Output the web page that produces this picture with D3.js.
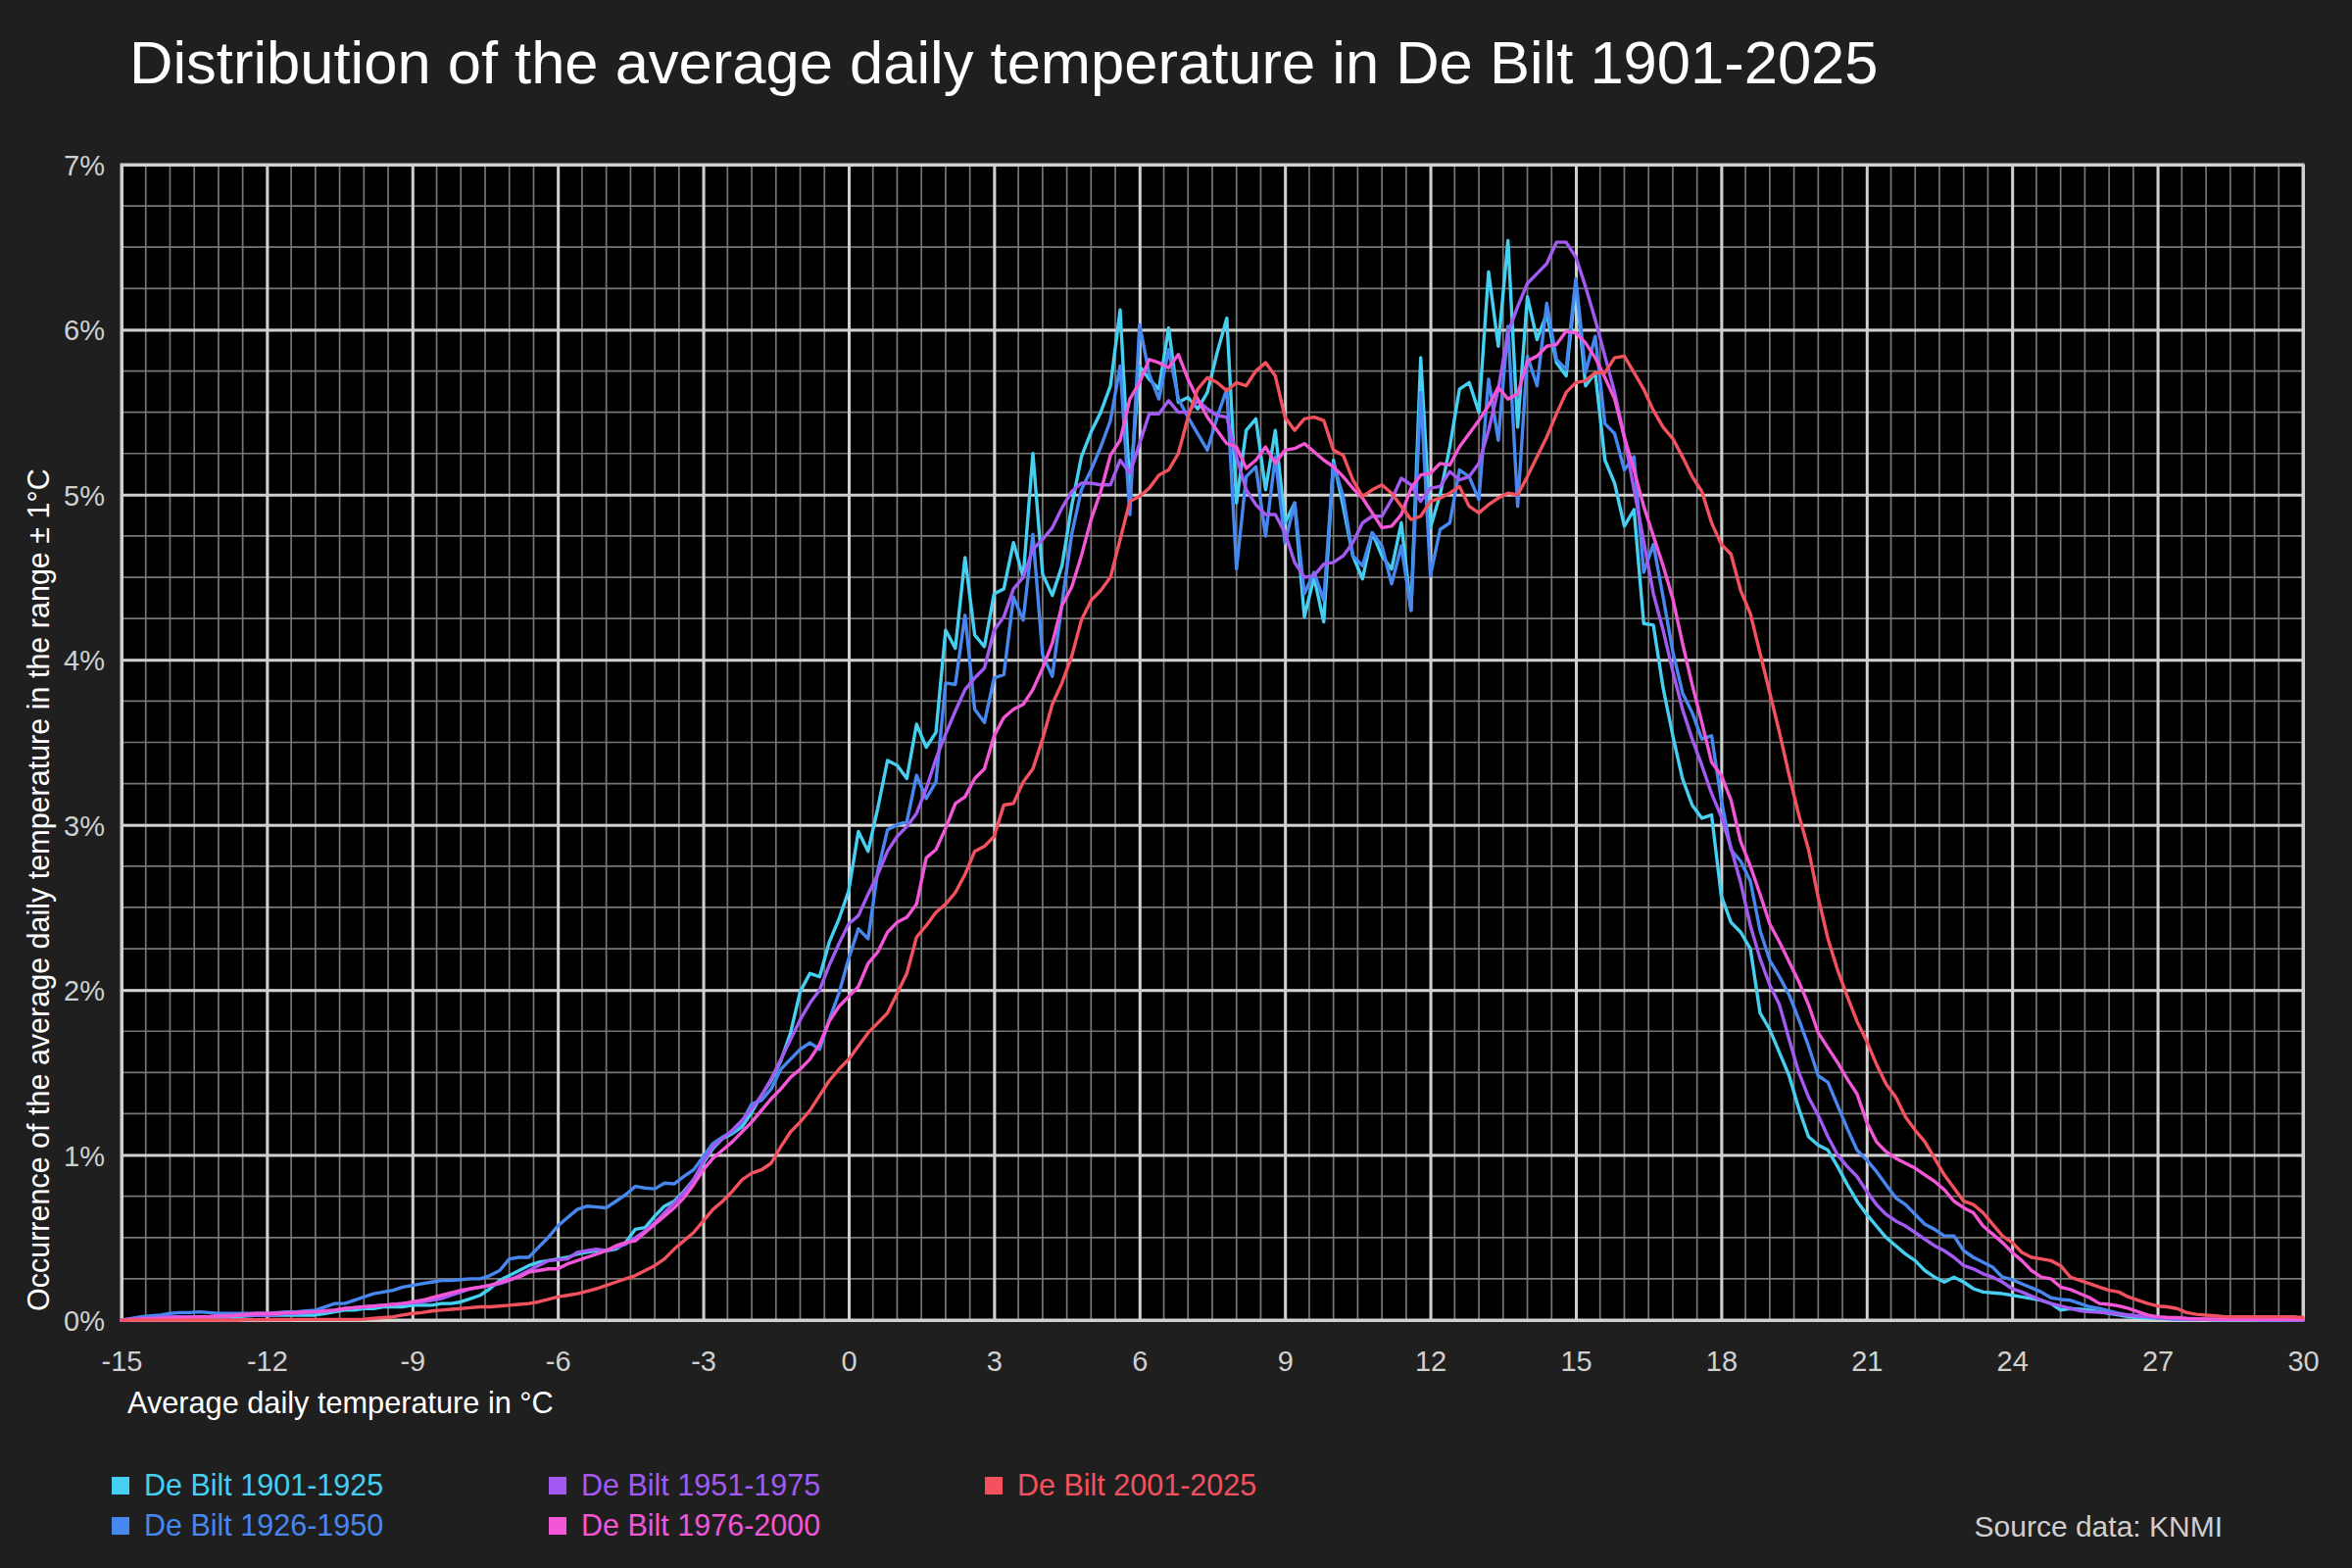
<!DOCTYPE html>
<html><head><meta charset="utf-8">
<script src="https://cdn.jsdelivr.net/npm/d3@7"></script>
<style>html,body{margin:0;padding:0;background:#1f1f1f;} svg{display:block;}</style>
</head><body>
<svg id="chart" width="2400" height="1600"></svg>
<script>
// Temperature grid: -15.0 .. 30.0 °C in 0.2 °C steps (226 points)
const tempStart = -15, tempStep = 0.2;

const seriesNames = ["De Bilt 1901-1925", "De Bilt 1926-1950", "De Bilt 1951-1975", "De Bilt 1976-2000", "De Bilt 2001-2025"];
const seriesColors = ["#45d0f2", "#4787f0", "#a35af2", "#f356d6", "#f4515f"];

const c1901 = [
0.00,0.005,0.01,0.01,0.015,0.02,0.02,0.02,0.02,0.02,
0.02,0.02,0.02,0.025,0.03,0.03,0.03,0.03,0.03,0.03,
0.03,0.04,0.05,0.06,0.06,0.07,0.07,0.08,0.08,0.08,
0.09,0.09,0.09,0.10,0.10,0.11,0.13,0.15,0.19,0.24,
0.27,0.30,0.33,0.35,0.36,0.37,0.38,0.40,0.41,0.42,
0.42,0.43,0.47,0.55,0.56,0.63,0.69,0.72,0.78,0.85,
0.95,1.04,1.10,1.13,1.17,1.26,1.36,1.45,1.57,1.74,
1.99,2.10,2.08,2.29,2.43,2.60,2.96,2.84,3.10,3.39,
3.36,3.28,3.61,3.47,3.56,4.18,4.07,4.62,4.15,4.08,
4.40,4.43,4.71,4.50,5.25,4.52,4.39,4.57,4.93,5.23,
5.38,5.50,5.66,6.12,5.03,5.78,5.70,5.64,6.01,5.56,
5.59,5.52,5.62,5.86,6.07,4.95,5.39,5.46,5.03,5.39,
4.83,4.95,4.26,4.50,4.23,5.21,4.93,4.63,4.49,4.77,
4.63,4.55,4.83,4.30,5.83,4.80,5.00,5.29,5.64,5.68,
5.50,6.35,5.90,6.54,5.41,6.20,5.94,6.10,5.80,5.72,
6.28,5.66,5.74,5.21,5.07,4.81,4.91,4.22,4.21,3.83,
3.54,3.28,3.12,3.04,3.06,2.57,2.41,2.35,2.25,1.86,
1.76,1.62,1.48,1.28,1.11,1.06,1.03,0.93,0.82,0.72,
0.64,0.57,0.50,0.45,0.40,0.36,0.30,0.26,0.23,0.26,
0.23,0.19,0.17,0.165,0.16,0.15,0.14,0.13,0.12,0.10,
0.06,0.07,0.065,0.06,0.05,0.04,0.03,0.02,0.016,0.013,
0.01,0.008,0.006,0.005,0.004,0.004,0.003,0.003,0.002,0.002,
0.002,0.001,0.001,0.001,0.0,0.0];

const c1926 = [
0.00,0.01,0.02,0.025,0.03,0.04,0.045,0.045,0.05,0.045,
0.04,0.04,0.04,0.04,0.04,0.04,0.045,0.05,0.05,0.055,
0.06,0.08,0.10,0.10,0.12,0.14,0.16,0.17,0.18,0.20,
0.21,0.22,0.23,0.24,0.24,0.245,0.25,0.25,0.27,0.30,
0.37,0.38,0.38,0.44,0.50,0.57,0.62,0.67,0.69,0.685,
0.68,0.72,0.76,0.81,0.80,0.795,0.83,0.825,0.87,0.91,
0.99,1.07,1.11,1.14,1.20,1.31,1.33,1.40,1.52,1.58,
1.64,1.68,1.64,1.82,1.98,2.19,2.37,2.31,2.72,2.97,
3.00,3.02,3.30,3.16,3.26,3.86,3.85,4.27,3.70,3.62,
3.89,3.91,4.38,4.24,4.76,4.03,3.90,4.34,4.76,5.03,
5.15,5.29,5.45,5.78,4.88,6.03,5.73,5.58,5.88,5.58,
5.47,5.37,5.27,5.47,5.64,4.55,5.11,5.17,4.75,5.23,
4.71,4.95,4.40,4.53,4.36,5.19,4.99,4.63,4.57,4.77,
4.69,4.46,4.69,4.30,5.62,4.51,4.79,4.83,5.15,5.11,
4.97,5.70,5.33,6.02,4.93,5.84,5.66,6.16,5.82,5.76,
6.31,5.74,5.96,5.43,5.37,5.15,5.23,4.53,4.70,4.38,
4.05,3.80,3.68,3.52,3.54,3.15,2.85,2.78,2.66,2.36,
2.18,2.08,1.97,1.82,1.66,1.48,1.44,1.30,1.16,1.03,
0.97,0.90,0.82,0.74,0.70,0.64,0.58,0.55,0.51,0.51,
0.42,0.38,0.35,0.32,0.26,0.245,0.22,0.195,0.17,0.135,
0.125,0.12,0.10,0.08,0.07,0.055,0.04,0.03,0.025,0.02,
0.012,0.008,0.006,0.005,0.004,0.004,0.003,0.003,0.002,0.002,
0.002,0.001,0.001,0.001,0.0,0.0];

const c1951 = [
0.00,0.005,0.01,0.01,0.015,0.02,0.02,0.02,0.02,0.02,
0.025,0.025,0.03,0.03,0.03,0.03,0.035,0.04,0.04,0.045,
0.05,0.055,0.06,0.07,0.075,0.08,0.085,0.09,0.095,0.10,
0.105,0.11,0.12,0.13,0.15,0.17,0.19,0.20,0.21,0.22,
0.24,0.27,0.30,0.33,0.36,0.365,0.37,0.41,0.42,0.43,
0.42,0.44,0.46,0.50,0.54,0.59,0.65,0.71,0.77,0.85,
0.96,1.05,1.10,1.15,1.21,1.28,1.36,1.46,1.58,1.70,
1.82,1.92,2.00,2.15,2.28,2.40,2.45,2.58,2.70,2.84,
2.93,2.99,3.07,3.22,3.40,3.55,3.69,3.82,3.89,3.95,
4.18,4.26,4.43,4.50,4.67,4.73,4.80,4.92,5.02,5.07,
5.07,5.06,5.06,5.21,5.13,5.31,5.49,5.49,5.57,5.50,
5.50,5.57,5.52,5.48,5.47,5.23,5.03,4.94,4.88,4.88,
4.77,4.59,4.50,4.51,4.58,4.59,4.63,4.71,4.83,4.87,
4.87,4.97,5.10,5.06,4.96,5.04,5.05,5.14,5.09,5.11,
5.19,5.39,5.64,5.98,6.14,6.28,6.34,6.40,6.53,6.53,
6.44,6.26,6.06,5.84,5.62,5.35,5.03,4.72,4.40,4.18,
3.93,3.70,3.52,3.36,3.19,3.05,2.86,2.65,2.39,2.19,
2.03,1.91,1.70,1.50,1.35,1.24,1.11,1.00,0.93,0.87,
0.78,0.70,0.64,0.60,0.57,0.53,0.49,0.45,0.42,0.38,
0.33,0.31,0.28,0.26,0.23,0.19,0.17,0.145,0.12,0.10,
0.085,0.07,0.056,0.05,0.047,0.042,0.036,0.03,0.024,0.02,
0.014,0.01,0.008,0.006,0.005,0.004,0.003,0.003,0.002,0.002,
0.002,0.001,0.001,0.001,0.0,0.0];

const c1976 = [
0.00,0.003,0.005,0.008,0.01,0.012,0.015,0.015,0.02,0.02,
0.025,0.025,0.03,0.035,0.04,0.04,0.04,0.045,0.045,0.05,
0.05,0.055,0.06,0.07,0.075,0.08,0.085,0.09,0.095,0.10,
0.11,0.12,0.135,0.15,0.165,0.18,0.19,0.20,0.21,0.23,
0.245,0.26,0.29,0.30,0.31,0.31,0.34,0.36,0.38,0.40,
0.42,0.45,0.47,0.48,0.53,0.58,0.63,0.68,0.74,0.82,
0.91,0.98,1.03,1.08,1.14,1.20,1.27,1.34,1.40,1.47,
1.52,1.58,1.67,1.81,1.90,1.96,2.02,2.16,2.23,2.35,
2.41,2.44,2.52,2.80,2.85,2.98,3.13,3.17,3.28,3.34,
3.54,3.65,3.70,3.73,3.82,3.95,4.10,4.33,4.44,4.63,
4.85,5.02,5.24,5.33,5.58,5.68,5.82,5.80,5.77,5.85,
5.70,5.58,5.47,5.39,5.31,5.29,5.16,5.21,5.29,5.19,
5.27,5.28,5.31,5.26,5.21,5.17,5.11,5.04,4.98,4.89,
4.80,4.81,4.88,5.04,5.12,5.13,5.19,5.18,5.29,5.37,
5.45,5.54,5.65,5.58,5.61,5.81,5.84,5.90,5.91,5.99,
5.98,5.92,5.83,5.71,5.58,5.35,5.15,4.93,4.75,4.57,
4.37,4.10,3.85,3.62,3.38,3.30,3.15,2.90,2.75,2.58,
2.40,2.29,2.17,2.05,1.91,1.74,1.65,1.56,1.46,1.37,
1.20,1.08,1.02,0.98,0.95,0.92,0.88,0.84,0.79,0.72,
0.68,0.65,0.57,0.52,0.47,0.41,0.36,0.30,0.26,0.25,
0.20,0.185,0.16,0.135,0.10,0.095,0.085,0.07,0.05,0.03,
0.02,0.016,0.015,0.01,0.008,0.006,0.005,0.004,0.004,0.004,
0.004,0.004,0.004,0.004,0.004,0.004];

const c2001 = [
0.00,0.00,0.00,0.00,0.00,0.00,0.00,0.00,0.00,0.00,
0.00,0.00,0.00,0.002,0.002,0.003,0.003,0.003,0.004,0.004,
0.004,0.004,0.004,0.004,0.004,0.005,0.01,0.015,0.02,0.03,
0.04,0.045,0.055,0.06,0.065,0.07,0.075,0.08,0.08,0.085,
0.09,0.095,0.10,0.11,0.125,0.14,0.15,0.16,0.175,0.19,
0.21,0.23,0.25,0.27,0.30,0.33,0.37,0.43,0.48,0.53,
0.60,0.67,0.72,0.78,0.85,0.89,0.91,0.95,1.05,1.14,
1.20,1.27,1.36,1.45,1.52,1.58,1.66,1.74,1.80,1.86,
1.98,2.10,2.32,2.39,2.47,2.52,2.59,2.70,2.84,2.87,
2.93,3.12,3.13,3.26,3.34,3.52,3.73,3.86,4.02,4.24,
4.36,4.42,4.50,4.73,4.96,4.99,5.04,5.12,5.15,5.25,
5.47,5.64,5.71,5.68,5.63,5.68,5.66,5.75,5.80,5.72,
5.47,5.39,5.46,5.47,5.45,5.27,5.24,5.09,4.99,5.03,
5.06,5.01,4.93,4.85,4.87,4.96,4.98,5.01,5.05,4.93,
4.89,4.94,4.98,5.01,5.00,5.11,5.23,5.35,5.49,5.62,
5.68,5.69,5.74,5.74,5.83,5.84,5.74,5.64,5.51,5.41,
5.34,5.23,5.11,5.02,4.83,4.70,4.64,4.42,4.28,4.04,
3.80,3.56,3.30,3.06,2.85,2.56,2.31,2.12,1.96,1.81,
1.69,1.55,1.43,1.35,1.23,1.15,1.08,0.98,0.88,0.80,
0.72,0.70,0.65,0.58,0.51,0.47,0.41,0.38,0.37,0.36,
0.33,0.26,0.24,0.22,0.20,0.18,0.17,0.14,0.12,0.10,
0.085,0.08,0.07,0.045,0.035,0.03,0.025,0.02,0.02,0.02,
0.02,0.02,0.02,0.02,0.02,0.015];

const xTickValues = [-15, -12, -9, -6, -3, 0, 3, 6, 9, 12, 15, 18, 21, 24, 27, 30];
const xTickLabels = ["-15", "-12", "-9", "-6", "-3", "0", "3", "6", "9", "12", "15", "18", "21", "24", "27", "30"];
const yTickValues = [0, 1, 2, 3, 4, 5, 6, 7];
const yTickLabels = ["0%", "1%", "2%", "3%", "4%", "5%", "6%", "7%"];

const titleText = "Distribution of the average daily temperature in De Bilt 1901-2025";
const xTitle = "Average daily temperature in °C";
const yTitle = "Occurrence of the average daily temperature in the range ± 1°C";
const sourceText = "Source data: KNMI";

// ---------- build ----------
const seriesValues = [c1901, c1926, c1951, c1976, c2001];
const series = seriesValues.map((vals, k) => ({
  name: seriesNames[k], color: seriesColors[k],
  points: vals.map((v, i) => ({ t: +(tempStart + i * tempStep).toFixed(1), v }))
}));

const FONT = "'Liberation Sans', Arial, Helvetica, sans-serif";
const svg = d3.select("#chart").style("font-family", FONT);
svg.append("rect").attr("width", 2400).attr("height", 1600).attr("fill", "#1f1f1f");

const plot = { left: 124, right: 2350, top: 168, bottom: 1347 };
const x = d3.scaleLinear().domain([-15, 30]).range([plot.left, plot.right]);
const y = d3.scaleLinear().domain([0, 7]).range([plot.bottom, plot.top]);

svg.append("rect").attr("x", plot.left).attr("y", plot.top)
  .attr("width", plot.right - plot.left).attr("height", plot.bottom - plot.top).attr("fill", "#000");

const grid = svg.append("g");
// minor grid
grid.selectAll("line.mx").data(d3.range(-15, 30.001, 0.5)).join("line")
  .attr("x1", d => x(d)).attr("x2", d => x(d)).attr("y1", plot.top).attr("y2", plot.bottom)
  .attr("stroke", "#767676").attr("stroke-width", 1.7);
grid.selectAll("line.my").data(d3.range(0, 7.001, 0.25)).join("line")
  .attr("x1", plot.left).attr("x2", plot.right).attr("y1", d => y(d)).attr("y2", d => y(d))
  .attr("stroke", "#767676").attr("stroke-width", 1.7);

// axes with major grid lines
const xAxis = d3.axisBottom(x).tickValues(xTickValues).tickFormat((d, i) => xTickLabels[i])
  .tickSize(-(plot.bottom - plot.top)).tickPadding(16);
const gx = svg.append("g").attr("transform", `translate(0,${plot.bottom})`).call(xAxis);
gx.select(".domain").remove();
gx.selectAll(".tick line").attr("stroke", "#d0d0d0").attr("stroke-width", 3);
gx.selectAll(".tick text").attr("fill", "#d0d0d0").attr("font-size", 29).attr("font-family", FONT)
  .attr("y", 0).attr("dy", 0).attr("transform", "translate(0,52)");

const yAxis = d3.axisLeft(y).tickValues(yTickValues).tickFormat((d, i) => yTickLabels[i])
  .tickSize(-(plot.right - plot.left)).tickPadding(16);
const gy = svg.append("g").attr("transform", `translate(${plot.left},0)`).call(yAxis);
gy.select(".domain").remove();
gy.selectAll(".tick line").attr("stroke", "#d0d0d0").attr("stroke-width", 3);
gy.selectAll(".tick text").attr("fill", "#d0d0d0").attr("font-size", 29).attr("font-family", FONT)
  .attr("x", -17).attr("dy", "0.36em");

// border
svg.append("rect").attr("x", plot.left).attr("y", plot.top)
  .attr("width", plot.right - plot.left).attr("height", plot.bottom - plot.top)
  .attr("fill", "none").attr("stroke", "#d0d0d0").attr("stroke-width", 3);

// lines
const line = d3.line().x(d => x(d.t)).y(d => y(d.v));
svg.append("g").selectAll("path").data(series).join("path")
  .attr("d", d => line(d.points)).attr("fill", "none")
  .attr("stroke", d => d.color).attr("stroke-width", 3.4)
  .attr("stroke-linejoin", "round").attr("stroke-linecap", "round");

// titles
svg.append("text").attr("x", 132).attr("y", 85).attr("fill", "#ffffff")
  .attr("font-size", 61.5).text(titleText);
svg.append("text").attr("x", 130).attr("y", 1442).attr("fill", "#ffffff")
  .attr("font-size", 30.7).text(xTitle);
svg.append("text").attr("transform", "translate(50,1338) rotate(-90)").attr("fill", "#ffffff")
  .attr("font-size", 30.5).text(yTitle);
svg.append("text").attr("x", 2268).attr("y", 1568).attr("text-anchor", "end").attr("fill", "#cfcfcf")
  .attr("font-size", 30).text(sourceText);

// legend
const legendCols = [114, 560, 1005];
const legendRows = [1507, 1548];
const lg = svg.append("g").selectAll("g").data(series).join("g")
  .attr("transform", (d, i) => `translate(${legendCols[Math.floor(i / 2)]},${legendRows[i % 2]})`);
lg.append("rect").attr("width", 18).attr("height", 18).attr("fill", d => d.color);
lg.append("text").attr("x", 33).attr("y", 19).attr("font-size", 30.5).attr("fill", d => d.color).text(d => d.name);
</script>
</body></html>
